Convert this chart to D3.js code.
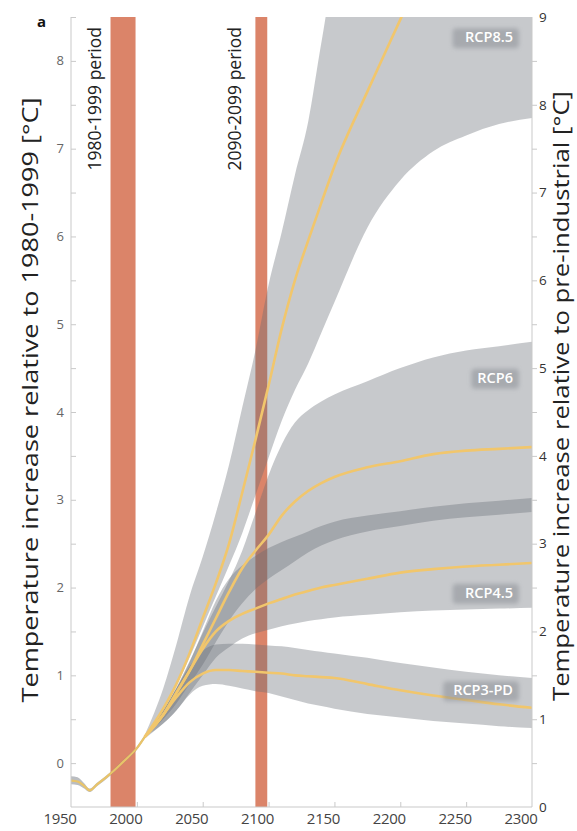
<!DOCTYPE html>
<html><head><meta charset="utf-8">
<script src="https://cdn.jsdelivr.net/npm/d3@7"></script>
<style>body{margin:0;background:#fff}</style>
</head><body>
<svg id="c" width="577" height="831"></svg>
<script>
// ---------- data ----------
const histYears = [1950, 1955, 1960, 1964, 1970, 1980, 1990, 2000, 2006];
const histVals  = [-0.20, -0.21, -0.26, -0.31, -0.24, -0.12, 0.02, 0.17, 0.30];
const histHi    = [-0.15, -0.16, -0.23, -0.29, -0.22, -0.10, 0.04, 0.19, 0.32];
const histLo    = [-0.24, -0.25, -0.29, -0.33, -0.26, -0.14, 0.00, 0.15, 0.28];

const years = [2006, 2020, 2030, 2040, 2050, 2060, 2070, 2080, 2090, 2100, 2110, 2120, 2130, 2140, 2150, 2175, 2200, 2225, 2250, 2275, 2300];

const rcp85Mean = [0.30, 0.62, 0.90, 1.25, 1.65, 2.05, 2.50, 3.08, 3.68, 4.30, 4.95, 5.50, 5.95, 6.38, 6.80, 7.65, 8.47, 9.30, 10.0, 10.6, 11.2];
const rcp85Hi   = [0.32, 0.85, 1.35, 1.90, 2.35, 2.85, 3.40, 4.05, 4.70, 5.45, 6.05, 6.70, 7.30, 8.20, 9.00, 9.5, 9.8, 10, 10, 10, 10];
const rcp85Lo   = [0.30, 0.60, 0.88, 1.20, 1.55, 1.90, 2.25, 2.62, 3.05, 3.48, 3.90, 4.25, 4.55, 4.90, 5.25, 6.10, 6.64, 6.97, 7.15, 7.28, 7.35];

const rcp6Mean = [0.30, 0.55, 0.80, 1.05, 1.35, 1.65, 1.95, 2.22, 2.42, 2.60, 2.82, 2.98, 3.10, 3.19, 3.26, 3.37, 3.44, 3.52, 3.56, 3.58, 3.60];
const rcp6Hi   = [0.30, 0.60, 0.86, 1.16, 1.48, 1.78, 2.08, 2.42, 2.85, 3.28, 3.63, 3.88, 4.02, 4.12, 4.20, 4.35, 4.50, 4.62, 4.70, 4.75, 4.80];
const rcp6Lo   = [0.30, 0.50, 0.68, 0.90, 1.12, 1.38, 1.62, 1.82, 1.98, 2.10, 2.20, 2.30, 2.40, 2.48, 2.54, 2.64, 2.70, 2.76, 2.80, 2.83, 2.86];

const rcp45Mean = [0.30, 0.55, 0.80, 1.05, 1.30, 1.50, 1.62, 1.70, 1.76, 1.82, 1.87, 1.92, 1.96, 2.00, 2.03, 2.10, 2.17, 2.21, 2.24, 2.26, 2.28];
const rcp45Hi   = [0.30, 0.60, 0.85, 1.15, 1.50, 1.85, 2.10, 2.25, 2.36, 2.45, 2.52, 2.58, 2.64, 2.70, 2.75, 2.82, 2.87, 2.92, 2.96, 2.99, 3.02];
const rcp45Lo   = [0.30, 0.45, 0.60, 0.80, 1.00, 1.20, 1.32, 1.42, 1.48, 1.52, 1.56, 1.59, 1.62, 1.64, 1.66, 1.69, 1.72, 1.74, 1.75, 1.76, 1.77];

const rcp3Mean = [0.30, 0.55, 0.75, 0.92, 1.02, 1.06, 1.06, 1.05, 1.04, 1.03, 1.02, 1.00, 0.99, 0.98, 0.97, 0.90, 0.83, 0.77, 0.72, 0.67, 0.63];
const rcp3Hi   = [0.30, 0.60, 0.85, 1.10, 1.28, 1.35, 1.36, 1.36, 1.35, 1.34, 1.33, 1.31, 1.29, 1.27, 1.25, 1.20, 1.14, 1.09, 1.04, 1.00, 0.97];
const rcp3Lo   = [0.28, 0.45, 0.60, 0.78, 0.88, 0.90, 0.88, 0.85, 0.82, 0.80, 0.76, 0.72, 0.68, 0.65, 0.62, 0.56, 0.52, 0.48, 0.45, 0.42, 0.40];

const scenarioNames = ["RCP8.5", "RCP6", "RCP4.5", "RCP3-PD"];
const periods = [[1980, 1999], [2090, 2099]];
const periodLabels = ["1980-1999 period", "2090-2099 period"];
const xTicks = [1950, 2000, 2050, 2100, 2150, 2200, 2250, 2300];
const leftTicks = [0, 1, 2, 3, 4, 5, 6, 7, 8];
const rightTicks = [0, 1, 2, 3, 4, 5, 6, 7, 8, 9];
const leftTitle = "Temperature increase relative to 1980-1999 [°C]";
const rightTitle = "Temperature increase relative to pre-industrial [°C]";

// ---------- layout ----------
const L = 71, R = 532, T = 17, B = 807;
const x = d3.scaleLinear().domain([1950, 2300]).range([L, R]);
const yL = d3.scaleLinear().domain([-0.5, 8.5]).range([B, T]);
const yR = d3.scaleLinear().domain([0, 9]).range([B, T]);
const FONT = "'Open Sans', 'DejaVu Sans', sans-serif";

const svg = d3.select("#c").style("font-family", FONT);
const defs = svg.append("defs");
defs.append("clipPath").attr("id", "plot").append("rect")
  .attr("x", L).attr("y", T).attr("width", R - L).attr("height", B - T);
defs.append("filter").attr("id", "blur").attr("x", "-30%").attr("y", "-60%").attr("width", "160%").attr("height", "220%")
  .append("feGaussianBlur").attr("stdDeviation", 2.2);

const g = svg.append("g").attr("clip-path", "url(#plot)");

// period bars
g.selectAll("rect.period").data(periods).join("rect")
  .attr("x", d => x(d[0])).attr("width", d => x(d[1]) - x(d[0]))
  .attr("y", T).attr("height", B - T)
  .attr("fill", "#db8469");

// bands
const bands = [
  {hi: rcp85Hi, lo: rcp85Lo, mean: rcp85Mean},
  {hi: rcp6Hi, lo: rcp6Lo, mean: rcp6Mean},
  {hi: rcp45Hi, lo: rcp45Lo, mean: rcp45Mean},
  {hi: rcp3Hi, lo: rcp3Lo, mean: rcp3Mean}
];
const area = d3.area().curve(d3.curveMonotoneX)
  .x(d => x(d.yr)).y0(d => yL(d.lo)).y1(d => yL(d.hi));
const line = d3.line().curve(d3.curveMonotoneX).x(d => x(d.yr)).y(d => yL(d.v));

bands.forEach(b => {
  const pts = years.map((yr, i) => ({yr, lo: b.lo[i], hi: b.hi[i]}));
  g.append("path").attr("d", area(pts))
    .attr("fill", "#676d76").attr("fill-opacity", 0.37);
});

// historical spread + line
g.append("path").attr("d", area(histYears.map((yr, i) => ({yr, lo: histLo[i], hi: histHi[i]}))))
  .attr("fill", "#676d76").attr("fill-opacity", 0.45);
g.append("path").attr("d", line(histYears.map((yr, i) => ({yr, v: histVals[i]}))))
  .attr("fill", "none").attr("stroke", "#e9c469").attr("stroke-width", 2.2);

// mean lines
bands.forEach(b => {
  g.append("path").attr("d", line(years.map((yr, i) => ({yr, v: b.mean[i]}))))
    .attr("fill", "none").attr("stroke", "#f1c66c").attr("stroke-width", 2.6);
});

// scenario labels
const labelPos = [[513, 8.27], [513, 4.39], [513, 1.94], [513, 0.83]];
scenarioNames.forEach((n, i) => {
  const px = labelPos[i][0], py = yL(labelPos[i][1]);
  const w = n.length * 9.4 + 6;
  svg.append("rect").attr("x", px - w + 2).attr("y", py - 9).attr("width", w + 4).attr("height", 20)
    .attr("rx", 4).attr("fill", "#8d9197").attr("opacity", 0.55).attr("filter", "url(#blur)");
  svg.append("text").attr("x", px).attr("y", py).attr("dy", "0.35em")
    .attr("text-anchor", "end").attr("fill", "#fff").attr("font-size", 14.5)
    .attr("font-weight", 600).text(n);
});

// axes
const axisCol = "#c9c9c9";
svg.append("line").attr("x1", L).attr("x2", L).attr("y1", T).attr("y2", B).attr("stroke", axisCol);
svg.append("line").attr("x1", R).attr("x2", R).attr("y1", T).attr("y2", B).attr("stroke", axisCol);
svg.append("line").attr("x1", L).attr("x2", R).attr("y1", B).attr("y2", B).attr("stroke", axisCol);

// left axis: ticks inward
const leftAxis = d3.axisRight(yL).tickValues(d3.range(0, 8.51, 0.5)).tickSize(5).tickFormat("");
svg.append("g").attr("transform", `translate(${L},0)`).call(leftAxis)
  .call(s => s.select(".domain").remove())
  .call(s => s.selectAll("line").attr("stroke", axisCol));
svg.append("g").selectAll("text").data(leftTicks).join("text")
  .attr("x", 64).attr("y", d => yL(d)).attr("dy", "0.35em").attr("text-anchor", "end")
  .attr("font-size", 13).attr("fill", "#666").text(d => d);

// right axis
const rightAxis = d3.axisRight(yR).tickValues(d3.range(0.5, 9, 0.5)).tickSize(5).tickFormat("");
svg.append("g").attr("transform", `translate(${R},0)`).call(rightAxis)
  .call(s => s.select(".domain").remove())
  .call(s => s.selectAll("line").attr("stroke", axisCol));
svg.append("g").selectAll("text").data(rightTicks).join("text")
  .attr("x", 539).attr("y", d => yR(d)).attr("dy", "0.35em").attr("text-anchor", "start")
  .attr("font-size", 13.5).attr("fill", "#333").text(d => d);

// bottom axis
const bottomAxis = d3.axisTop(x).tickValues(xTicks.slice(1, -1)).tickSize(5).tickFormat("");
svg.append("g").attr("transform", `translate(0,${B})`).call(bottomAxis)
  .call(s => s.select(".domain").remove())
  .call(s => s.selectAll("line").attr("stroke", axisCol));
svg.append("g").selectAll("text").data(xTicks).join("text")
  .attr("x", d => x(d) - 11).attr("y", 824).attr("text-anchor", "middle")
  .attr("font-size", 15).attr("letter-spacing", -0.3).attr("fill", "#444").text(d => d);

// period labels
const periodLabelX = [95, 235];
periodLabels.forEach((t, i) => {
  svg.append("text").attr("transform", `translate(${periodLabelX[i]},${27}) rotate(-90)`)
    .attr("text-anchor", "end").attr("dy", "0.35em")
    .attr("font-size", 17.5).attr("fill", "#222").text(t);
});

// axis titles
svg.append("text").attr("transform", `translate(30,${400}) rotate(-90)`)
  .attr("text-anchor", "middle").attr("dy", "0.35em").attr("font-size", 22.5)
  .attr("textLength", 605).attr("lengthAdjust", "spacingAndGlyphs")
  .attr("fill", "#222").text(leftTitle);
svg.append("text").attr("transform", `translate(561,${396}) rotate(-90)`)
  .attr("text-anchor", "middle").attr("dy", "0.35em").attr("font-size", 22.5)
  .attr("textLength", 610).attr("lengthAdjust", "spacingAndGlyphs")
  .attr("fill", "#222").text(rightTitle);

// panel letter
svg.append("text").attr("x", 37).attr("y", 27).attr("font-size", 15).attr("font-weight", 700)
  .attr("fill", "#111").text("a");
</script>
</body></html>
